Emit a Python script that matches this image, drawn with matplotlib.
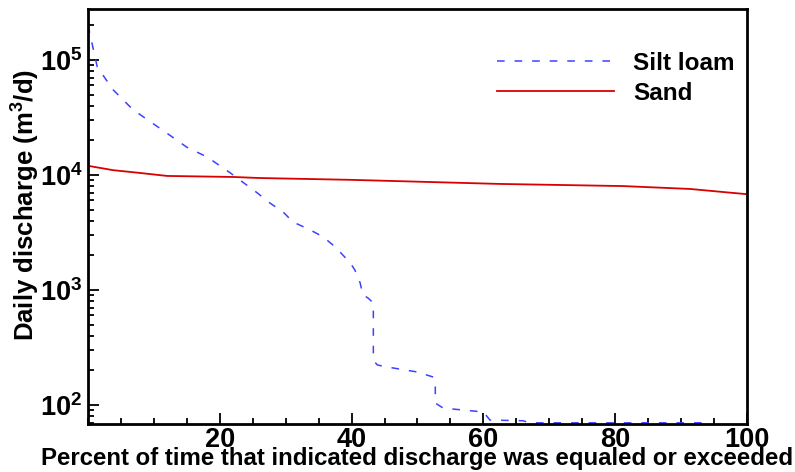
import numpy as np
import matplotlib
matplotlib.use('Agg')
import matplotlib.pyplot as plt
from matplotlib.ticker import LogLocator, MultipleLocator, FixedLocator

plt.rcParams['font.family'] = ['Liberation Sans', 'DejaVu Sans']
plt.rcParams['font.weight'] = 'bold'
plt.rcParams['mathtext.fontset'] = 'custom'
plt.rcParams['mathtext.rm'] = 'Liberation Sans:bold'
plt.rcParams['mathtext.it'] = 'Liberation Sans:bold'
plt.rcParams['mathtext.bf'] = 'Liberation Sans:bold'
plt.rcParams['mathtext.default'] = 'bf'

# flow duration curves
silt_pct = [0, 1.4, 3.8, 6.8, 12.0, 15.0, 18.1, 21.6, 25.7, 27.6, 29.6, 31.1,
            33.7, 35.7, 37.5, 39.8, 40.5, 41.3, 41.7, 42.5, 43.3, 43.3, 43.9,
            45.4, 49.9, 52.4, 52.7, 52.7, 53.9, 60.0, 61.0, 66.0, 67.1, 94.5]
silt_q = [2.0e5, 8.7e4, 5.5e4, 3.7e4, 2.3e4, 1.74e4, 1.43e4, 1.04e4, 6.97e3,
          5.7e3, 4.77e3, 3.9e3, 3.33e3, 2.89e3, 2.37e3, 1.72e3, 1.49e3, 1.15e3,
          906, 851, 770, 245, 223, 214, 194, 175, 155, 104, 94, 87, 74, 73, 70, 70]

sand_pct = [0, 3.8, 7.9, 12, 22, 26, 40, 62.5, 81.2, 91.4, 96.4, 100]
sand_q = [1.2e4, 1.1e4, 1.04e4, 9.8e3, 9.6e3, 9.4e3, 9.06e3, 8.35e3, 8.0e3,
          7.55e3, 7.1e3, 6.8e3]

xticks = [20, 40, 60, 80, 100]
yticks = [1e2, 1e3, 1e4, 1e5]
ytick_labels = ['$10^{2}$', '$10^{3}$', '$10^{4}$', '$10^{5}$']

fig = plt.figure(figsize=(7.95, 4.72), dpi=100)
ax = fig.add_axes([0.1107, 0.1017, 0.8289, 0.8793])

ax.plot(silt_pct, silt_q, color=(0.25, 0.25, 1.0), lw=1.1,
        dashes=(5, 6.5), label='Silt loam')
ax.plot(sand_pct, sand_q, color=(0.85, 0.0, 0.0), lw=1.3, label='Sand')

ax.set_yscale('log')
ax.set_xlim(0, 100)
ax.set_ylim(68.4, 2.77e5)

ax.xaxis.set_major_locator(FixedLocator(xticks))
ax.xaxis.set_minor_locator(MultipleLocator(5))
ax.set_xticklabels([str(t) for t in xticks])
ax.yaxis.set_major_locator(FixedLocator(yticks))
ax.yaxis.set_minor_locator(LogLocator(base=10, subs=np.arange(2, 10)))
ax.set_yticklabels(ytick_labels)

ax.tick_params(axis='both', which='both', direction='in', top=False, right=False, width=1.3)
ax.tick_params(axis='both', which='major', length=8, labelsize=19.5)
ax.tick_params(axis='x', which='major', pad=2)
ax.tick_params(axis='y', which='major', pad=4)
ax.tick_params(axis='both', which='minor', length=4)
for s in ax.spines.values():
    s.set_linewidth(2)

ax.set_xlabel('Percent of time that indicated discharge was equaled or exceeded',
              fontsize=17.3, fontweight='bold', labelpad=-4)
ax.set_ylabel('Daily discharge (m$^{3}$/d)', fontsize=18.5, fontweight='bold')
ax.yaxis.set_label_coords(-0.07, 0.528)

ax.legend(loc='upper right', frameon=False, fontsize=17.5, handlelength=4.8,
          handletextpad=0.8, labelspacing=0.3, bbox_to_anchor=(1.015, 0.95))

fig.savefig('out.png', dpi=100)
